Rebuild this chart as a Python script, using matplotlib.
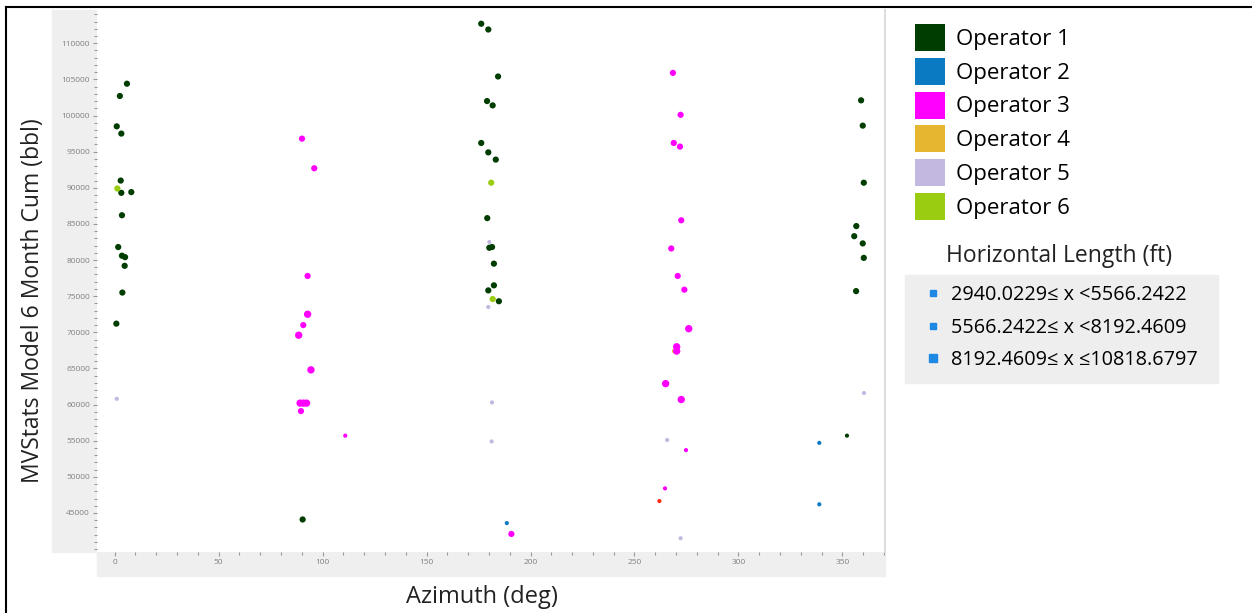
import matplotlib
matplotlib.use("Agg")
import matplotlib.pyplot as plt
from matplotlib.patches import Patch, Rectangle
from matplotlib.lines import Line2D
from matplotlib.ticker import MultipleLocator
import numpy as np

plt.rcParams['font.family'] = ['Open Sans', 'DejaVu Sans']

# data: azimuth (deg), 6 month cum (bbl), length class (0/1/2)
op1_az = [5.9, 2.5, 1.0, 3.2, 2.9, 3.2, 8.0, 3.5, 1.7, 3.5, 5.0, 4.8, 3.7, 0.8, 90.4,
          176.3, 179.7, 184.4, 179.1, 181.8, 176.3, 179.7, 183.3, 179.2, 180.2, 181.5,
          182.4, 182.4, 179.7, 184.8,
          359.0, 359.8, 360.3, 356.7, 355.7, 359.8, 360.3, 356.6, 352.2]
op1_cum = [104400, 102700, 98500, 97500, 91000, 89300, 89400, 86200, 81800, 80600, 80400,
           79200, 75500, 71200, 44100,
           112700, 111900, 105400, 102000, 101400, 96200, 94900, 93900, 85800, 81700, 81800,
           79500, 76500, 75800, 74300,
           102100, 98600, 90700, 84700, 83300, 82300, 80300, 75700, 55700]
op1_len = [1] * 38 + [0]

op2_az = [188.6, 338.9, 338.9]
op2_cum = [43600, 54700, 46200]
op2_len = [0, 0, 0]

op3_az = [90.1, 96.0, 92.8, 92.8, 90.7, 88.5, 94.4, 89.2, 90.8, 92.3, 89.6, 110.9, 190.8,
          268.5, 272.2, 268.9, 271.9, 272.5, 267.7, 270.8, 274.0, 276.1, 270.3, 270.3,
          265.0, 272.5, 274.8, 264.7]
op3_cum = [96800, 92700, 77800, 72500, 71000, 69600, 64800, 60200, 60200, 60200, 59100,
           55700, 42100,
           105900, 100100, 96200, 95700, 85500, 81600, 77800, 75900, 70500, 68000, 67400,
           62900, 60700, 53700, 48400]
op3_len = [1, 1, 1, 2, 1, 2, 2, 2, 2, 2, 1, 0, 1,
           1, 1, 1, 1, 1, 1, 1, 1, 2, 2, 2, 2, 2, 0, 0]

op4_az = [269.0]
op4_cum = [67400]
op4_len = [0]

op5_az = [1.0, 180.2, 179.7, 181.5, 181.3, 265.7, 272.2, 360.4]
op5_cum = [60800, 82500, 73500, 60300, 54900, 55100, 41500, 61600]
op5_len = [0] * 8

op6_az = [1.3, 181.1, 181.8]
op6_cum = [89900, 90700, 74600]
op6_len = [1, 1, 1]

other_az = [262.0]
other_cum = [46650]
other_len = [0]

operators = ['Operator 1', 'Operator 2', 'Operator 3', 'Operator 4', 'Operator 5', 'Operator 6']
op_colors = ['#003d00', '#0a7bc2', '#ff00ff', '#e6b631', '#c3b8e0', '#9acd12']
len_labels = ['2940.0229\u2264 x <5566.2422', '5566.2422\u2264 x <8192.4609',
              '8192.4609\u2264 x \u226410818.6797']
len_sizes = [9, 20, 28]

fig = plt.figure(figsize=(12.52, 6.13), dpi=100)
W, H = 1252.0, 613.0

def fx(px):
    return px / W

def fy(py):
    return 1 - py / H

# grey bands behind tick labels and behind the length legend
fig.patches.append(Rectangle((fx(52), fy(552)), fx(97) - fx(52), fy(10) - fy(552),
                             transform=fig.transFigure, color='#efefef', zorder=-1))
fig.patches.append(Rectangle((fx(97), fy(576)), fx(885) - fx(97), fy(552) - fy(576),
                             transform=fig.transFigure, color='#efefef', zorder=-1))
fig.patches.append(Rectangle((fx(905), fy(383)), fx(1218) - fx(905), fy(275) - fy(383),
                             transform=fig.transFigure, color='#eeeeee', zorder=-1))
# frame lines of the picture (top and left only)
fig.add_artist(Line2D([fx(6), fx(6)], [fy(613), fy(7)], color='black', lw=1.5,
                      transform=fig.transFigure))
fig.add_artist(Line2D([fx(6), fx(1252)], [fy(7), fy(7)], color='black', lw=1.5,
                      transform=fig.transFigure))

ax = fig.add_axes([fx(97), fy(552), fx(885) - fx(97), fy(10) - fy(552)])
ax.set_xlim(-8.5, 370.5)
ax.set_ylim(39600, 114600)

groups = [(op1_az, op1_cum, op1_len, op_colors[0]),
          (op2_az, op2_cum, op2_len, op_colors[1]),
          (op5_az, op5_cum, op5_len, op_colors[4]),
          (op4_az, op4_cum, op4_len, op_colors[3]),
          (op3_az, op3_cum, op3_len, op_colors[2]),
          (op6_az, op6_cum, op6_len, op_colors[5]),
          (other_az, other_cum, other_len, '#ff2a10')]
for az, cum, ln, col in groups:
    s = [len_sizes[k] for k in ln]
    ax.scatter(az, cum, s=s, color=col, edgecolors='none', zorder=3)

ax.set_yticks(np.arange(45000, 110001, 5000))
ax.yaxis.set_minor_locator(MultipleLocator(1000))
ax.set_xticks(np.arange(0, 351, 50))
ax.xaxis.set_minor_locator(MultipleLocator(10))
ax.tick_params(axis='both', which='major', labelsize=6, labelcolor='#808080',
               color='#999999', length=3, width=0.8, pad=2)
ax.tick_params(axis='both', which='minor', color='#999999', length=2, width=0.8)
for sp in ['left', 'top', 'bottom']:
    ax.spines[sp].set_visible(False)
ax.spines['right'].set_color('#dddddd')
ax.spines['right'].set_linewidth(1.5)

fig.text(fx(482), fy(597), 'Azimuth (deg)', fontsize=17, ha='center', va='center',
         color='#222222')
fig.text(fx(33), fy(301), 'MVStats Model 6 Month Cum (bbl)', fontsize=16.5, rotation=90,
         ha='center', va='center', color='#222222')

op_handles = [Patch(facecolor=c, edgecolor='none') for c in op_colors]
leg1 = fig.legend(op_handles, operators, loc='upper left',
                  bbox_to_anchor=(fx(915), fy(24)), frameon=False, fontsize=16,
                  handlelength=1.35, handleheight=1.5, handletextpad=0.5,
                  labelspacing=0.3, borderpad=0, borderaxespad=0)

fig.text(fx(1059), fy(256), 'Horizontal Length (ft)', fontsize=16.5, ha='center',
         va='center', color='#222222')
len_handles = [Line2D([], [], marker='s', linestyle='none', color='#1e88e5',
                      markersize=m) for m in [4.2, 4.8, 5.5]]
leg2 = fig.legend(len_handles, len_labels, loc='upper left',
                  bbox_to_anchor=(fx(926), fy(285)), frameon=False, fontsize=14.3,
                  handlelength=0.7, handletextpad=0.55, labelspacing=0.63,
                  borderpad=0, borderaxespad=0)

fig.savefig('out.png', dpi=100)
